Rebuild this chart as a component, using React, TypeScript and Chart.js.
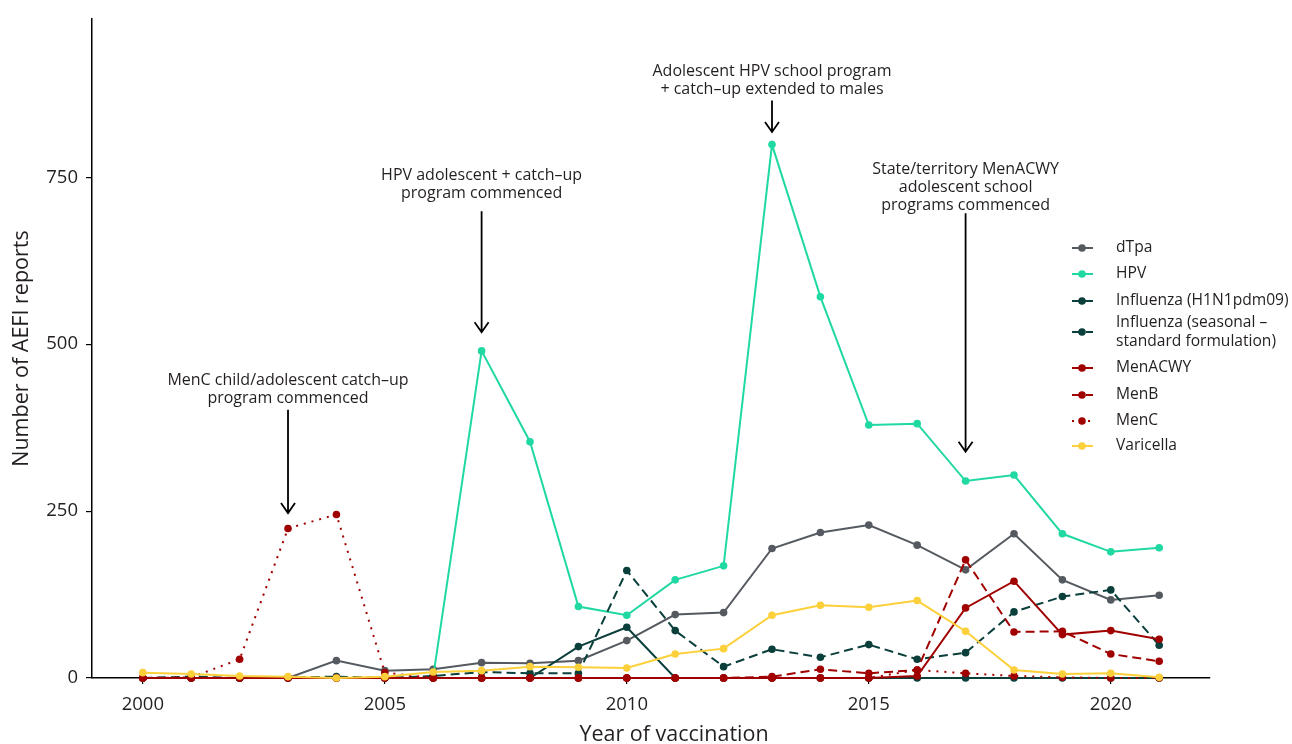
import React, { useEffect, useRef } from "react";
import { Chart, registerables } from "chart.js";

Chart.register(...registerables);

// ---------- data ----------
const years = [2000, 2001, 2002, 2003, 2004, 2005, 2006, 2007, 2008, 2009, 2010, 2011, 2012, 2013, 2014, 2015, 2016, 2017, 2018, 2019, 2020, 2021];

const dTpa = [0, 0, 0, 0, 26, 11, 13, 23, 22, 26, 56, 95, 98, 194, 218, 229, 199, 162, 216, 147, 117, 124];
const hpv = [null, null, null, null, null, null, 2, 490, 354, 107, 94, 147, 168, 799, 571, 379, 381, 295, 304, 216, 189, 195];
const fluH1N1 = [0, 0, 0, 0, 0, 0, 0, 0, 0, 47, 76, 0, 0, 0, 0, 0, 0, 0, 0, 0, 0, 0];
const fluSeasonal = [0, 2, 0, 1, 2, 0, 3, 9, 7, 7, 161, 71, 17, 43, 31, 50, 28, 38, 99, 122, 132, 49];
const menACWY = [0, 0, 0, 0, 0, 0, 0, 0, 0, 0, 0, 0, 0, 0, 0, 0, 3, 105, 145, 65, 71, 58];
const menB = [0, 0, 0, 0, 0, 0, 0, 0, 0, 0, 0, 0, 0, 2, 13, 7, 12, 177, 69, 70, 36, 25];
const menC = [0, 1, 28, 224, 245, 8, 0, 0, 0, 0, 0, 0, 0, 0, 0, 0, 12, 7, 3, 1, 0, 0];
const varicella = [8, 6, 3, 2, 0, 2, 9, 11, 17, 16, 15, 36, 44, 94, 109, 106, 116, 70, 12, 6, 7, 1];

const seriesNames = ["dTpa", "HPV", "Influenza (H1N1pdm09)", "Influenza (seasonal –\nstandard formulation)", "MenACWY", "MenB", "MenC", "Varicella"];
const seriesValues = [dTpa, hpv, fluH1N1, fluSeasonal, menACWY, menB, menC, varicella];

const xTicks = [2000, 2005, 2010, 2015, 2020];
const yTicks = [0, 250, 500, 750];

const xTitle = "Year of vaccination";
const yTitle = "Number of AEFI reports";

// annotations: year, text lines, first text line value, arrow start value, arrow tip value
const annotYears = [2003, 2007, 2013, 2017];
const annotTexts = [
  ["MenC child/adolescent catch–up", "program commenced"],
  ["HPV adolescent + catch–up", "program commenced"],
  ["Adolescent HPV school program", "+ catch–up extended to males"],
  ["State/territory MenACWY", "adolescent school", "programs commenced"],
];
const annotTextValue = [445, 753, 909, 762];
const annotArrowFrom = [402, 699, 865, 696];
const annotArrowTo = [247, 518, 818, 339];

// ---------- styles ----------
const colors = ["#555a61", "#1fd8a2", "#0a3f3b", "#0a3f3b", "#a00000", "#a00000", "#a00000", "#fcd03a"];
const dashes: number[][] = [[], [], [], [9, 5], [], [9, 5], [2, 6], []];
const FONT = "'Open Sans', 'Noto Sans', sans-serif";
const TEXT = "#231f20";

const legendRowsY = [248, 274, 301, 332, 368, 395, 421, 446];

const overlayPlugin = {
  id: "overlay",
  afterDraw(chart: any) {
    const ctx: CanvasRenderingContext2D = chart.ctx;
    const xs = chart.scales.x;
    const ys = chart.scales.y;
    ctx.save();
    // annotations
    ctx.fillStyle = TEXT;
    ctx.strokeStyle = "#000";
    ctx.font = `16px ${FONT}`;
    ctx.textAlign = "center";
    ctx.textBaseline = "middle";
    annotYears.forEach((yr, i) => {
      const px = xs.getPixelForValue(yr);
      const ty = ys.getPixelForValue(annotTextValue[i]);
      annotTexts[i].forEach((line, j) => ctx.fillText(line, px, ty + j * 18));
      const a0 = ys.getPixelForValue(annotArrowFrom[i]);
      const a1 = ys.getPixelForValue(annotArrowTo[i]);
      ctx.lineWidth = 1.8;
      ctx.setLineDash([]);
      ctx.beginPath();
      ctx.moveTo(px, a0);
      ctx.lineTo(px, a1);
      ctx.moveTo(px - 7, a1 - 10);
      ctx.lineTo(px, a1);
      ctx.lineTo(px + 7, a1 - 10);
      ctx.stroke();
    });
    // legend
    ctx.textAlign = "left";
    ctx.font = `15.6px ${FONT}`;
    seriesNames.forEach((name, i) => {
      const y = legendRowsY[i];
      ctx.strokeStyle = colors[i];
      ctx.fillStyle = colors[i];
      ctx.lineWidth = 2;
      ctx.setLineDash(dashes[i]);
      ctx.beginPath();
      ctx.moveTo(1072, y);
      ctx.lineTo(1093, y);
      ctx.stroke();
      ctx.setLineDash([]);
      ctx.beginPath();
      ctx.arc(1082, y, 3.8, 0, Math.PI * 2);
      ctx.fill();
      ctx.fillStyle = TEXT;
      const lines = name.split("\n");
      lines.forEach((l, j) => ctx.fillText(l, 1116, y + (j - (lines.length - 1) / 2) * 19));
    });
    // x title
    ctx.font = `21.5px ${FONT}`;
    ctx.textAlign = "center";
    ctx.fillText(xTitle, 674, 735);
    ctx.restore();
  },
};

export default function App() {
  const ref = useRef<HTMLCanvasElement>(null);
  useEffect(() => {
    document.body.style.margin = "0";
    const canvas = ref.current!;
    const datasets = seriesNames.map((name, i) => ({
      label: name,
      data: years.map((yr, k) => ({ x: yr, y: seriesValues[i][k] })),
      borderColor: colors[i],
      backgroundColor: colors[i],
      borderWidth: 2,
      borderDash: dashes[i],
      pointRadius: 3.8,
      pointHoverRadius: 3.8,
      pointBorderWidth: 0,
      pointBackgroundColor: colors[i],
      fill: false,
      tension: 0,
      clip: false as any,
      spanGaps: false,
      order: seriesNames.length - i,
    }));
    const chart = new Chart(canvas, {
      type: "line",
      data: { datasets },
      options: {
        animation: false,
        responsive: true,
        maintainAspectRatio: false,
        layout: { padding: { top: 15, right: 82, left: 0, bottom: 0 } },
        plugins: { legend: { display: false }, tooltip: { enabled: false } },
        scales: {
          x: {
            type: "linear",
            min: 1998.95,
            max: 2022.05,
            afterFit: (axis: any) => { axis.height = 66; },
            afterBuildTicks: (axis: any) => { axis.ticks = xTicks.map((v) => ({ value: v })); },
            grid: { display: true, drawOnChartArea: false, drawTicks: true, tickLength: 6, color: "#000", lineWidth: 1.2 },
            border: { display: true, color: "#000", width: 1.5 },
            ticks: { color: TEXT, font: { family: FONT, size: 18.5 }, padding: 10, maxRotation: 0, callback: (v: any) => String(v) },
          },
          y: {
            type: "linear",
            min: 0,
            max: 987,
            afterFit: (axis: any) => { axis.width = 92; },
            afterBuildTicks: (axis: any) => { axis.ticks = yTicks.map((v) => ({ value: v })); },
            grid: { display: true, drawOnChartArea: false, drawTicks: true, tickLength: 6, color: "#000", lineWidth: 1.2 },
            border: { display: true, color: "#000", width: 1.5 },
            ticks: { color: TEXT, font: { family: FONT, size: 18.5 }, padding: 8, callback: (v: any) => String(v) },
            title: { display: true, text: yTitle, color: TEXT, font: { family: FONT, size: 21.5, lineHeight: 1.2 }, padding: { top: 9, bottom: 0 } },
          },
        },
      },
      plugins: [overlayPlugin],
    });
    return () => chart.destroy();
  }, []);
  return (
    <div style={{ position: "fixed", left: 0, top: 0, width: 1292, height: 744 }}>
      <canvas ref={ref} />
    </div>
  );
}
